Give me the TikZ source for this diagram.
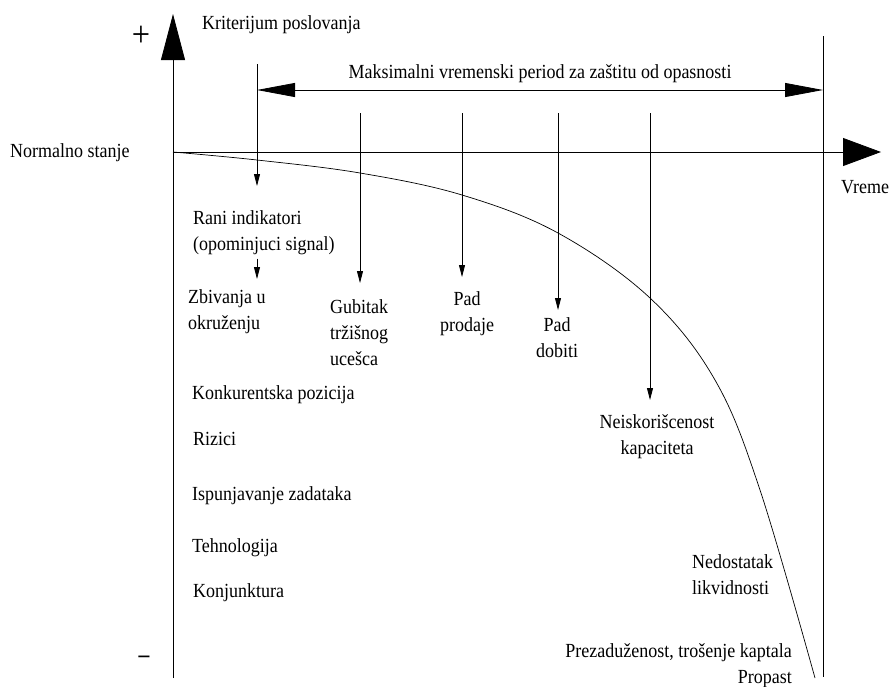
\documentclass[tikz,border=0pt]{standalone}
\usepackage{fontspec}
\setmainfont[FakeStretch=0.9]{Liberation Serif}
\usepackage{tikz}
\usetikzlibrary{arrows.meta,calc,positioning}
\tikzset{
  txt/.style={inner sep=0pt, font=\fontsize{20}{26}\selectfont},
  sarrow/.style={line width=0.8pt, -{Triangle[length=12pt,width=6pt]}},
  bigarrow/.style={line width=0.8pt, -{Triangle[length=38pt,width=28pt]}},
}
\begin{document}
\begin{tikzpicture}[x=1pt,y=-1pt]
        \useasboundingbox (0,0) rectangle (894,686);
        % axes
        \coordinate (O) at (173,152);
        \coordinate (yb) at (173,678);
        \coordinate (yt) at (173,14);
        \coordinate (xe) at (881,152);
        \draw[line width=0.8pt, -{Triangle[length=46pt,width=24pt]}] (yb) -- (yt);
        \draw[bigarrow] (O) -- (xe);
        \node[inner sep=0pt, font=\fontsize{36}{36}\selectfont] (plus) at (141,36) {+};
        \node[inner sep=0pt, font=\fontsize{24}{24}\selectfont] (minus) at (144,659) {\textbf{--}};
        \node[txt, anchor=base west] (krit) at (202,29) {Kriterijum poslovanja};
        \node[txt, anchor=base west] (norm) at (10,157) {Normalno stanje};
        \node[txt, anchor=base west] (vreme) at (841,193) {Vreme};
        % limit line and period
        \coordinate (r1) at (823,36);
        \coordinate (r2) at (823,677);
        \draw[line width=0.8pt] (r1) -- (r2);
        \coordinate (p1) at (257,90);
        \coordinate (p2) at (823,90);
        \draw[line width=0.8pt, {Triangle[length=38pt,width=14pt]}-{Triangle[length=38pt,width=14pt]}] (p1) --
          node[txt, above=7pt] (period) {Maksimalni vremenski period za zaštitu od opasnosti} (p2);
        % curve
        \draw[line width=0.7pt] plot[smooth, tension=0.6] coordinates {(173,152) (257,160) (360,173) (462,195) (558,233) (650,298) (715,380) (760,490) (815,678)};
        % signals
        \coordinate (a1) at (257,64);
        \coordinate (a2) at (360,113);
        \coordinate (a3) at (462,113);
        \coordinate (a4) at (558,113);
        \coordinate (a5) at (650,113);
        \node[txt, anchor=north west, align=left] (rani) at (193,210) {Rani indikatori\\(opominjuci signal)};
        \node[txt, anchor=north west, align=left] (zbiv) at (188,289) {Zbivanja u\\okruženju};
        \node[txt, anchor=north west, align=left] (gub) at (330,299) {Gubitak\\tržišnog\\ucešca};
        \node[txt, anchor=north, align=center] (prod) at (467,291) {Pad\\prodaje};
        \node[txt, anchor=north, align=center] (dob) at (557,317) {Pad\\dobiti};
        \node[txt, anchor=north, align=center] (neis) at (657,414) {Neiskorišcenost\\kapaciteta};
        \node[txt, anchor=north west, align=left] (likv) at (692,554) {Nedostatak\\likvidnosti};
        \node[txt, anchor=north east, align=right] (prop) at (792,643) {Prezaduženost, trošenje kaptala\\Propast};
        \draw[sarrow, shorten >=24pt] (a1) -- (a1 |- rani.north);
        \draw[sarrow, shorten <=4pt, shorten >=10pt] (a1 |- rani.south) -- (a1 |- zbiv.north);
        \draw[sarrow, shorten >=16pt] (a2) -- (a2 |- gub.north);
        \draw[sarrow, shorten >=14pt] (a3) -- (a3 |- prod.north);
        \draw[sarrow, shorten >=7pt] (a4) -- (a4 |- dob.north);
        \draw[sarrow, shorten >=14pt] (a5) -- (a5 |- neis.north);
        % factors
        \node[txt, anchor=base west] (konk) at (192,399) {Konkurentska pozicija};
        \node[txt, anchor=base west] (riz) at (193,445) {Rizici};
        \node[txt, anchor=base west] (isp) at (192,500) {Ispunjavanje zadataka};
        \node[txt, anchor=base west] (teh) at (192,552) {Tehnologija};
        \node[txt, anchor=base west] (konj) at (193,597) {Konjunktura};
      \end{tikzpicture}
\end{document}
